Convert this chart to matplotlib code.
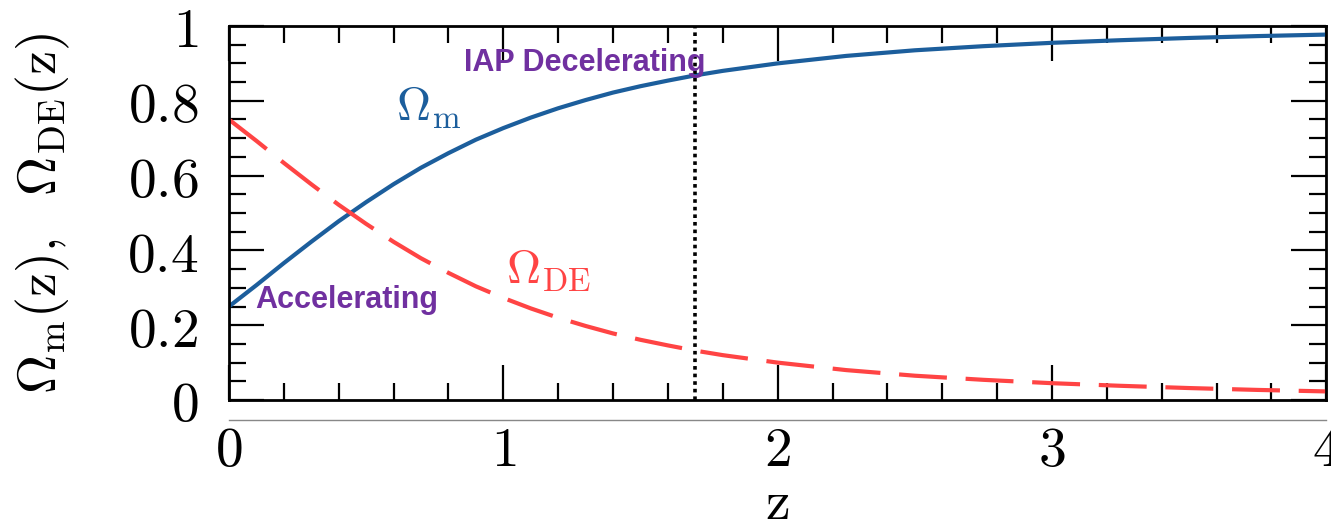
import matplotlib
matplotlib.use("Agg")
import matplotlib.pyplot as plt
from matplotlib.ticker import MultipleLocator, FixedLocator, FixedFormatter

# values
z = [0.0, 0.1, 0.2, 0.3, 0.4, 0.5, 0.6, 0.7, 0.8, 0.9, 1.0, 1.1, 1.2, 1.3, 1.4, 1.5,
     1.6, 1.7, 1.8, 1.9, 2.0, 2.25, 2.5, 2.75, 3.0, 3.25, 3.5, 3.75, 4.0]
omega_m = [0.250, 0.307, 0.366, 0.423, 0.478, 0.529, 0.577, 0.621, 0.660, 0.696, 0.727,
           0.755, 0.780, 0.802, 0.822, 0.839, 0.854, 0.868, 0.880, 0.890, 0.900,
           0.920, 0.935, 0.946, 0.955, 0.962, 0.968, 0.973, 0.977]
omega_de = [0.750, 0.693, 0.634, 0.577, 0.522, 0.471, 0.423, 0.379, 0.340, 0.304, 0.273,
            0.245, 0.220, 0.198, 0.178, 0.161, 0.146, 0.132, 0.120, 0.110, 0.100,
            0.080, 0.065, 0.054, 0.045, 0.038, 0.032, 0.027, 0.023]
z_transition = 1.7

x_ticks = [0, 1, 2, 3, 4]
x_labels = ["0", "1", "2", "3", "4"]
y_ticks = [0, 0.2, 0.4, 0.6, 0.8, 1.0]
y_labels = ["0", "0.2", "0.4", "0.6", "0.8", "1"]

plt.rcParams["mathtext.fontset"] = "cm"
plt.rcParams["font.family"] = "serif"

blue = "#1c5e9c"
red = "#ff4444"
purple = "#7030a0"

fig = plt.figure(figsize=(13.31, 5.26), dpi=100)
ax = fig.add_axes([0.172, 0.2395, 0.8245, 0.7111])

ax.plot(z, omega_m, color=blue, lw=3.0, solid_capstyle="butt")
ax.plot(z, omega_de, color=red, lw=3.0, dashes=(11.5, 4.5))
ax.axvline(z_transition, color="black", lw=2.6, linestyle=(0, (1, 1.1)))

ax.text(0.61, 0.745, r"$\Omega_{\rm m}$", color=blue, fontsize=34)
ax.text(1.01, 0.31, r"$\Omega_{\rm DE}$", color=red, fontsize=34)
ax.text(0.855, 0.90, "IAP Decelerating", color=purple, fontsize=22,
        fontweight="bold", family="Liberation Sans", va="center")
ax.text(0.095, 0.267, "Accelerating", color=purple, fontsize=22,
        fontweight="bold", family="Liberation Sans", va="center")

ax.set_xlim(0, 4)
ax.set_ylim(0, 1)
ax.xaxis.set_major_locator(FixedLocator(x_ticks))
ax.xaxis.set_major_formatter(FixedFormatter(["$" + s + "$" for s in x_labels]))
ax.yaxis.set_major_locator(FixedLocator(y_ticks))
ax.yaxis.set_major_formatter(FixedFormatter(["$" + s + "$" for s in y_labels]))
ax.xaxis.set_minor_locator(MultipleLocator(0.2))
ax.yaxis.set_minor_locator(MultipleLocator(0.05))
ax.tick_params(which="both", direction="in", top=True, right=True, width=1.6,
               colors="black", labelsize=40)
ax.tick_params(axis="x", which="major", length=25, pad=17)
ax.tick_params(axis="y", which="major", length=25, pad=22)
ax.tick_params(which="minor", length=12)
for s in ax.spines.values():
    s.set_linewidth(2.0)

# thin grey rule under the frame
ax.plot([0, 1], [-0.053, -0.053], transform=ax.transAxes, color="#888888",
        lw=1.0, clip_on=False)

# x label placed on its baseline so it sits near the bottom edge like the original
fig.text(0.584, 0.013, r"$\rm z$", fontsize=40, ha="center", va="baseline")
ax.set_ylabel(r"$\Omega_{\rm m}({\rm z}),\ \ \Omega_{\rm DE}({\rm z})$", fontsize=39,
              labelpad=40)

plt.savefig("out.png", dpi=100)
